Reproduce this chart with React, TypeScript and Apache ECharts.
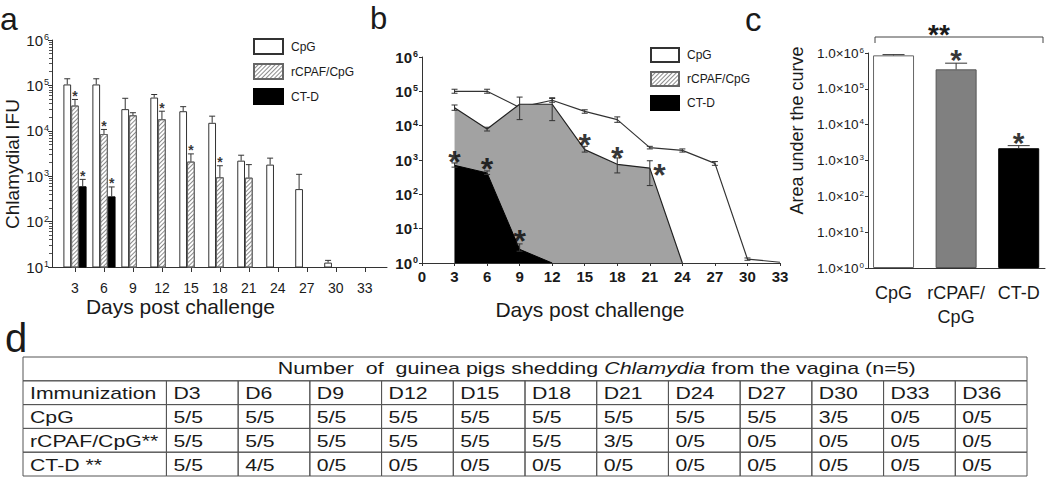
import React, { useEffect, useRef } from 'react';
import * as echarts from 'echarts';

const FONT = 'Liberation Sans, Arial, Helvetica, sans-serif';
const INK = '#1a1a1a';

// ---------- Panel a: Chlamydial IFU per day (bars, log scale)
const daysA = [3, 6, 9, 12, 15, 18, 21, 24, 27, 30];
const tickDaysA = [3, 6, 9, 12, 15, 18, 21, 24, 27, 30, 33];
const cpgA = [1.05e5, 1.05e5, 3.0e4, 5.4e4, 2.7e4, 1.5e4, 2.2e3, 1.8e3, 520, 12.5];
const cpgAErr = [1.4e5, 1.4e5, 5.2e4, 6.3e4, 3.4e4, 2.1e4, 2.9e3, 2.5e3, 1.1e3, 14];
const rcpafDaysA = [3, 6, 9, 12, 15, 18, 21];
const rcpafA = [3.6e4, 8.5e3, 2.2e4, 1.8e4, 2.1e3, 950, 930];
const rcpafAErr = [4.9e4, 1.07e4, 2.5e4, 2.7e4, 3.1e3, 1.7e3, 1.8e3];
const ctdDaysA = [3, 6];
const ctdA = [600, 360];
const ctdAErr = [850, 580];
const starDaysRcpafA = [3, 6, 12, 15, 18];
const starDaysCtdA = [3, 6];
const BAR_SHIFT = 0.8; // one bar width, in days

// ---------- Panel b: area plot
const daysB = [3, 6, 9, 12, 15, 18, 21, 24, 27, 30, 33];
const cpgB = [1e5, 1e5, 3.4e4, 5.5e4, 2.6e4, 1.5e4, 2.3e3, 1.9e3, 800, 1.3, 1.05];
const cpgBHi = [1.15e5, 1.15e5, null, 6.2e4, 2.9e4, 1.8e4, 2.5e3, 2.1e3, 900, 1.4, null];
const cpgBLo = [0.88e5, 0.88e5, null, 4.8e4, 2.3e4, 1.25e4, 2.1e3, 1.7e3, 700, 1.2, null];
const rcpafDaysB = [3, 6, 9, 12, 15, 18, 21, 24];
const rcpafB = [3.3e4, 8e3, 4.2e4, 4.2e4, 2e3, 750, 580, 1];
const rcpafBHi = [4e4, 9e3, 6.8e4, 6.5e4, 2.5e3, 1.15e3, 950, null];
const rcpafBLo = [2.8e4, 7e3, 1.5e4, 1.4e4, 1.7e3, 420, 180, null];
const ctdDaysB = [3, 6, 9, 12];
const ctdB = [700, 420, 2.5, 1];
const ctdBHi = [820, 480, 3.6, null];
const ctdBLo = [620, 380, 2.2, null];
const starsB = [[3, 1.4e3], [6, 850], [9, 7], [15, 4.3e3], [18, 1.8e3], [21.9, 600]];

// ---------- Panel c: area under the curve
const aucGroups = ['CpG', 'rCPAF/\nCpG', 'CT-D'];
const aucValues = [8.6e5, 3.5e5, 2.2e3];
const aucErr = [9.0e5, 5.2e5, 2.6e3];
const aucStarIdx = [1, 2];

// ---------- Panel d: table
const tableTitle = 'Number  of  guinea pigs shedding {i|Chlamydia} from the vagina (n=5)';
const tableDays = ['D3', 'D6', 'D9', 'D12', 'D15', 'D18', 'D21', 'D24', 'D27', 'D30', 'D33', 'D36'];
const tableGroups = ['CpG', 'rCPAF/CpG**', 'CT-D **'];
const cpgShed = ['5/5', '5/5', '5/5', '5/5', '5/5', '5/5', '5/5', '5/5', '5/5', '3/5', '0/5', '0/5'];
const rcpafShed = ['5/5', '5/5', '5/5', '5/5', '5/5', '5/5', '3/5', '0/5', '0/5', '0/5', '0/5', '0/5'];
const ctdShed = ['5/5', '4/5', '0/5', '0/5', '0/5', '0/5', '0/5', '0/5', '0/5', '0/5', '0/5', '0/5'];

const supRich = (base: number, sup: number, bold: boolean) => ({
  b: { fontSize: base, fontFamily: FONT, fontWeight: bold ? 'bold' : 'normal', color: INK, verticalAlign: 'bottom' },
  s: { fontSize: sup, fontFamily: FONT, fontWeight: bold ? 'bold' : 'normal', color: INK, verticalAlign: 'top', padding: [0, 0, 0, 1] },
});
const expOf = (v: number) => Math.round(Math.log10(v));

function errRender(capHalf: number, lowerCap: boolean) {
  return (params: any, api: any) => {
    const x = api.value(0);
    const lo = api.value(1);
    const hi = api.value(2);
    const a = api.coord([x, lo]);
    const b = api.coord([x, hi]);
    const st = { stroke: '#333', lineWidth: 1 };
    const children: any[] = [
      { type: 'line', shape: { x1: a[0], y1: a[1], x2: b[0], y2: b[1] }, style: st },
      { type: 'line', shape: { x1: b[0] - capHalf, y1: b[1], x2: b[0] + capHalf, y2: b[1] }, style: st },
    ];
    if (lowerCap) children.push({ type: 'line', shape: { x1: a[0] - capHalf, y1: a[1], x2: a[0] + capHalf, y2: a[1] }, style: st });
    return { type: 'group', children };
  };
}

type Cell = { x0: number; x1: number; row: number; text: string; title?: boolean };
function buildCells(): Cell[] {
  const cells: Cell[] = [{ x0: 0, x1: 14, row: 0, text: tableTitle, title: true }];
  cells.push({ x0: 0, x1: 2, row: 1, text: 'Immunization' });
  tableDays.forEach((d, i) => cells.push({ x0: 2 + i, x1: 3 + i, row: 1, text: d }));
  const rows = [cpgShed, rcpafShed, ctdShed];
  tableGroups.forEach((g, r) => {
    cells.push({ x0: 0, x1: 2, row: 2 + r, text: g });
    rows[r].forEach((v, i) => cells.push({ x0: 2 + i, x1: 3 + i, row: 2 + r, text: v }));
  });
  return cells;
}

const starLabel = (fontSize: number, extra: any) => ({
  show: true, formatter: '*', fontSize, color: '#000', fontFamily: FONT,
  textBorderWidth: 0, textBorderColor: 'transparent', textShadowBlur: 0, ...extra,
});

function buildOption() {
  const cells = buildCells();
  const hatch = {
    symbol: 'rect', symbolSize: 1, color: '#8c8c8c',
    dashArrayX: [1, 0], dashArrayY: [1, 2], rotation: -Math.PI / 4,
  };
  const axisLine = { show: true, lineStyle: { color: '#333', width: 1 } };

  const errA: number[][] = [];
  daysA.forEach((d, i) => errA.push([d - BAR_SHIFT, cpgA[i], cpgAErr[i]]));
  rcpafDaysA.forEach((d, i) => errA.push([d, rcpafA[i], rcpafAErr[i]]));
  ctdDaysA.forEach((d, i) => errA.push([d + BAR_SHIFT, ctdA[i], ctdAErr[i]]));

  const starsA: number[][] = [];
  starDaysRcpafA.forEach((d) => starsA.push([d, rcpafAErr[rcpafDaysA.indexOf(d)]]));
  starDaysCtdA.forEach((d) => starsA.push([d + BAR_SHIFT, ctdAErr[ctdDaysA.indexOf(d)]]));

  const errB: number[][] = [];
  daysB.forEach((d, i) => { if (cpgBHi[i] != null) errB.push([d, cpgBLo[i] as number, cpgBHi[i] as number]); });
  rcpafDaysB.forEach((d, i) => { if (rcpafBHi[i] != null) errB.push([d, rcpafBLo[i] as number, rcpafBHi[i] as number]); });
  ctdDaysB.forEach((d, i) => { if (ctdBHi[i] != null) errB.push([d, ctdBLo[i] as number, ctdBHi[i] as number]); });

  const aucStyles = [
    { color: '#ffffff', borderColor: '#666', borderWidth: 1 },
    { color: '#808080', borderColor: '#555', borderWidth: 1 },
    { color: '#000000', borderColor: '#000', borderWidth: 1 },
  ];

  return {
    animation: false,
    backgroundColor: '#ffffff',
    textStyle: { fontFamily: FONT },
    grid: [
      { left: 52, top: 40, width: 335, height: 227, outerBoundsMode: 'none' },
      { left: 422, top: 57, width: 358, height: 206, outerBoundsMode: 'none' },
      { left: 868, top: 53, width: 177, height: 215, outerBoundsMode: 'none' },
      { left: 23, top: 357, width: 1004, height: 119, outerBoundsMode: 'none' },
    ],
    legend: [
      {
        data: ['CpG', 'rCPAF/CpG', 'CT-D'], left: 253, top: 38, orient: 'vertical', icon: 'rect',
        itemWidth: 29, itemHeight: 15, itemGap: 8, padding: 0, selectedMode: false,
        textStyle: { fontSize: 12, fontFamily: FONT, color: INK, padding: [0, 0, 0, 3] },
      },
      {
        data: ['CpG', 'rCPAF/CpG', 'CT-D'], left: 650, top: 47, orient: 'vertical', icon: 'rect',
        itemWidth: 28, itemHeight: 14, itemGap: 8, padding: 0, selectedMode: false,
        textStyle: { fontSize: 12, fontFamily: FONT, color: INK, padding: [0, 0, 0, 3] },
      },
    ],
    xAxis: [
      {
        gridIndex: 0, type: 'value', min: 0.62, max: 35.3, axisLine,
        axisTick: { show: true, customValues: tickDaysA, length: 5, lineStyle: { color: '#333' } },
        axisLabel: { customValues: tickDaysA, fontSize: 14, color: INK, margin: 14, fontFamily: FONT },
        splitLine: { show: false },
        name: 'Days post challenge', nameLocation: 'middle', nameGap: 28,
        nameTextStyle: { fontSize: 21, color: INK, fontFamily: FONT, padding: [0, 78, 0, 0] },
      },
      {
        gridIndex: 1, type: 'value', min: 0, max: 33, interval: 3, axisLine,
        axisTick: { show: true, length: 3, lineStyle: { color: '#333' } },
        axisLabel: { fontSize: 15, fontWeight: 'bold', color: INK, margin: 6, fontFamily: FONT },
        splitLine: { show: false },
        name: 'Days post challenge', nameLocation: 'middle', nameGap: 36,
        nameTextStyle: { fontSize: 21, color: INK, fontFamily: FONT, padding: [0, 22, 0, 0] },
      },
      {
        gridIndex: 2, type: 'value', min: 0.592, max: 3.42, axisLine,
        axisTick: { show: false },
        axisLabel: {
          customValues: [1, 2, 3], fontSize: 18, lineHeight: 24, color: INK, margin: 13, fontFamily: FONT,
          formatter: (v: number) => aucGroups[Math.round(v) - 1] ?? '',
        },
        splitLine: { show: false },
      },
      { gridIndex: 3, type: 'value', min: 0, max: 14, show: false },
    ],
    yAxis: [
      {
        gridIndex: 0, type: 'log', logBase: 10, min: 10, max: 1e6, splitNumber: 5, axisLine,
        axisTick: { show: true, length: 4, lineStyle: { color: '#333' } },
        minorTick: { show: true, splitNumber: 9, length: 3, lineStyle: { color: '#555' } },
        axisLabel: { margin: 3, formatter: (v: number) => `{b|10}{s|${expOf(v)}}`, rich: supRich(15, 9, false) },
        splitLine: { show: false },
        name: 'Chlamydial IFU', nameLocation: 'middle', nameGap: 27, nameRotate: 90,
        nameTextStyle: { fontSize: 19, color: INK, fontFamily: FONT, padding: [0, 21, 0, 0] },
      },
      {
        gridIndex: 1, type: 'log', logBase: 10, min: 1, max: 1e6, splitNumber: 6, axisLine,
        axisTick: { show: true, length: 3, lineStyle: { color: '#333' } },
        axisLabel: { margin: 4, formatter: (v: number) => `{b|10}{s|${expOf(v)}}`, rich: supRich(15, 9, true) },
        splitLine: { show: false },
      },
      {
        gridIndex: 2, type: 'log', logBase: 10, min: 1, max: 1e6, splitNumber: 6, axisLine,
        axisTick: { show: true, length: 3, lineStyle: { color: '#333' } },
        axisLabel: { margin: 4, formatter: (v: number) => `{b|1.0×10}{s|${expOf(v)}}`, rich: supRich(13.5, 8, false) },
        splitLine: { show: false },
        name: 'Area under the curve', nameLocation: 'middle', nameGap: 62, nameRotate: 90,
        nameTextStyle: { fontSize: 18, color: INK, fontFamily: FONT, padding: [0, 0, 0, 60] },
      },
      { gridIndex: 3, type: 'value', min: 0, max: 5, inverse: true, show: false },
    ],
    series: [
      // ---- panel a
      {
        name: 'CpG', type: 'bar', xAxisIndex: 0, yAxisIndex: 0, barGap: '0%', barCategoryGap: '20%',
        data: daysA.map((d, i) => [d, cpgA[i]]),
        itemStyle: { color: '#ffffff', borderColor: '#333', borderWidth: 1 },
      },
      {
        name: 'rCPAF/CpG', type: 'bar', xAxisIndex: 0, yAxisIndex: 0, barGap: '0%', barCategoryGap: '20%',
        data: rcpafDaysA.map((d, i) => [d, rcpafA[i]]),
        itemStyle: { color: '#ffffff', borderColor: '#666', borderWidth: 1, decal: hatch },
      },
      {
        name: 'CT-D', type: 'bar', xAxisIndex: 0, yAxisIndex: 0, barGap: '0%', barCategoryGap: '20%',
        data: ctdDaysA.map((d, i) => [d, ctdA[i]]),
        itemStyle: { color: '#000000', borderColor: '#000', borderWidth: 1 },
      },
      {
        name: 'errA', type: 'custom', xAxisIndex: 0, yAxisIndex: 0, z: 4,
        renderItem: errRender(3, false), data: errA, encode: { x: 0, y: [1, 2] },
      },
      {
        name: 'starsA', type: 'scatter', xAxisIndex: 0, yAxisIndex: 0, symbolSize: 1, z: 5,
        itemStyle: { color: 'rgba(0,0,0,0)' }, data: starsA,
        label: starLabel(14, { position: 'top', distance: 0, offset: [0, 4], fontWeight: 'bold' }),
      },
      // ---- panel b
      {
        name: 'CpG', type: 'line', xAxisIndex: 1, yAxisIndex: 1, z: 1, symbol: 'none',
        data: daysB.map((d, i) => [d, cpgB[i]]),
        lineStyle: { color: '#333', width: 1.2 },
      },
      {
        name: 'rCPAF/CpG', type: 'line', xAxisIndex: 1, yAxisIndex: 1, z: 2, symbol: 'none',
        data: rcpafDaysB.map((d, i) => [d, rcpafB[i]]),
        lineStyle: { color: '#222', width: 1.2 },
        areaStyle: { color: '#a2a2a2', opacity: 1, origin: 'start' },
      },
      {
        name: 'CT-D', type: 'line', xAxisIndex: 1, yAxisIndex: 1, z: 3, symbol: 'none',
        data: ctdDaysB.map((d, i) => [d, ctdB[i]]),
        lineStyle: { color: '#000', width: 1 },
        areaStyle: { color: '#000', opacity: 1, origin: 'start' },
      },
      {
        name: 'errB', type: 'custom', xAxisIndex: 1, yAxisIndex: 1, z: 4,
        renderItem: errRender(3, true), data: errB, encode: { x: 0, y: [1, 2] },
      },
      {
        name: 'starsB', type: 'scatter', xAxisIndex: 1, yAxisIndex: 1, z: 5, symbolSize: 1,
        itemStyle: { color: 'rgba(0,0,0,0)' }, data: starsB,
        label: starLabel(32, { position: 'inside', offset: [0, 7], fontWeight: 'bold', lineHeight: 22 }),
      },
      // ---- panel c
      {
        name: 'AUC', type: 'bar', xAxisIndex: 2, yAxisIndex: 2, barWidth: 41,
        data: aucValues.map((v, i) => ({ value: [i + 1, v], itemStyle: aucStyles[i] })),
      },
      {
        name: 'errC', type: 'custom', xAxisIndex: 2, yAxisIndex: 2, z: 4,
        renderItem: errRender(11, false), data: aucValues.map((v, i) => [i + 1, v, aucErr[i]]),
        encode: { x: 0, y: [1, 2] },
      },
      {
        name: 'starsC', type: 'scatter', xAxisIndex: 2, yAxisIndex: 2, symbolSize: 1, z: 5,
        itemStyle: { color: 'rgba(0,0,0,0)' }, data: aucStarIdx.map((i) => [i + 1, aucErr[i]]),
        label: starLabel(30, { position: 'top', distance: 0, offset: [0, 6], fontWeight: 'bold', lineHeight: 18 }),
      },
      // ---- panel d (table)
      {
        name: 'table', type: 'custom', xAxisIndex: 3, yAxisIndex: 3, silent: true,
        data: cells.map((c) => [c.x0, c.row]),
        renderItem: (params: any, api: any) => {
          const c = cells[params.dataIndex];
          const p0 = api.coord([c.x0, c.row]);
          const p1 = api.coord([c.x1, c.row + 1]);
          const x = Math.min(p0[0], p1[0]);
          const y = Math.min(p0[1], p1[1]);
          const w = Math.abs(p1[0] - p0[0]);
          const h = Math.abs(p1[1] - p0[1]);
          const children: any[] = [
            { type: 'rect', shape: { x, y, width: w, height: h }, style: { fill: 'none', stroke: '#555', lineWidth: 1 } },
          ];
          if (c.title) {
            const q0 = api.coord([2, c.row]);
            const q1 = api.coord([14, c.row]);
            children.push({
              type: 'text', x: (q0[0] + q1[0]) / 2, y: y + h / 2, scaleX: 1.34,
              style: {
                text: c.text, fontSize: 16, fontFamily: FONT, fill: INK, align: 'center', verticalAlign: 'middle',
                rich: { i: { fontStyle: 'italic', fontSize: 16, fontFamily: FONT, fill: INK, color: INK } },
              },
            });
          } else {
            children.push({
              type: 'text', x: x + 7, y: y + h / 2 + 1, scaleX: 1.25,
              style: { text: c.text, fontSize: 17, fontFamily: FONT, fill: INK, align: 'left', verticalAlign: 'middle' },
            });
          }
          return { type: 'group', children };
        },
      },
    ],
    graphic: [
      { type: 'text', left: 0, top: 3, style: { text: 'a', fontSize: 32, fontFamily: FONT, fill: INK } },
      { type: 'text', left: 370, top: 3, style: { text: 'b', fontSize: 31, fontFamily: FONT, fill: INK } },
      { type: 'text', left: 745, top: 3, style: { text: 'c', fontSize: 33, fontFamily: FONT, fill: INK } },
      { type: 'text', left: 5, top: 318, style: { text: 'd', fontSize: 40, fontFamily: FONT, fill: INK } },
      {
        type: 'polyline', shape: { points: [[875, 43], [875, 37], [1043, 37], [1043, 43]] },
        style: { stroke: '#444', lineWidth: 1, fill: 'none' },
      },
      {
        type: 'text', x: 939, y: 34,
        style: { text: '**', fontSize: 28, lineHeight: 18, fontWeight: 'bold', fontFamily: FONT, fill: INK, align: 'center', verticalAlign: 'middle' },
      },
    ],
  };
}

export default function App() {
  const ref = useRef<HTMLDivElement>(null);
  useEffect(() => {
    document.body.style.margin = '0';
    if (!ref.current) return;
    const chart = echarts.init(ref.current, undefined, { renderer: 'svg' });
    chart.setOption(buildOption() as any);
    return () => chart.dispose();
  }, []);
  return <div ref={ref} style={{ width: 1050, height: 486 }} />;
}
